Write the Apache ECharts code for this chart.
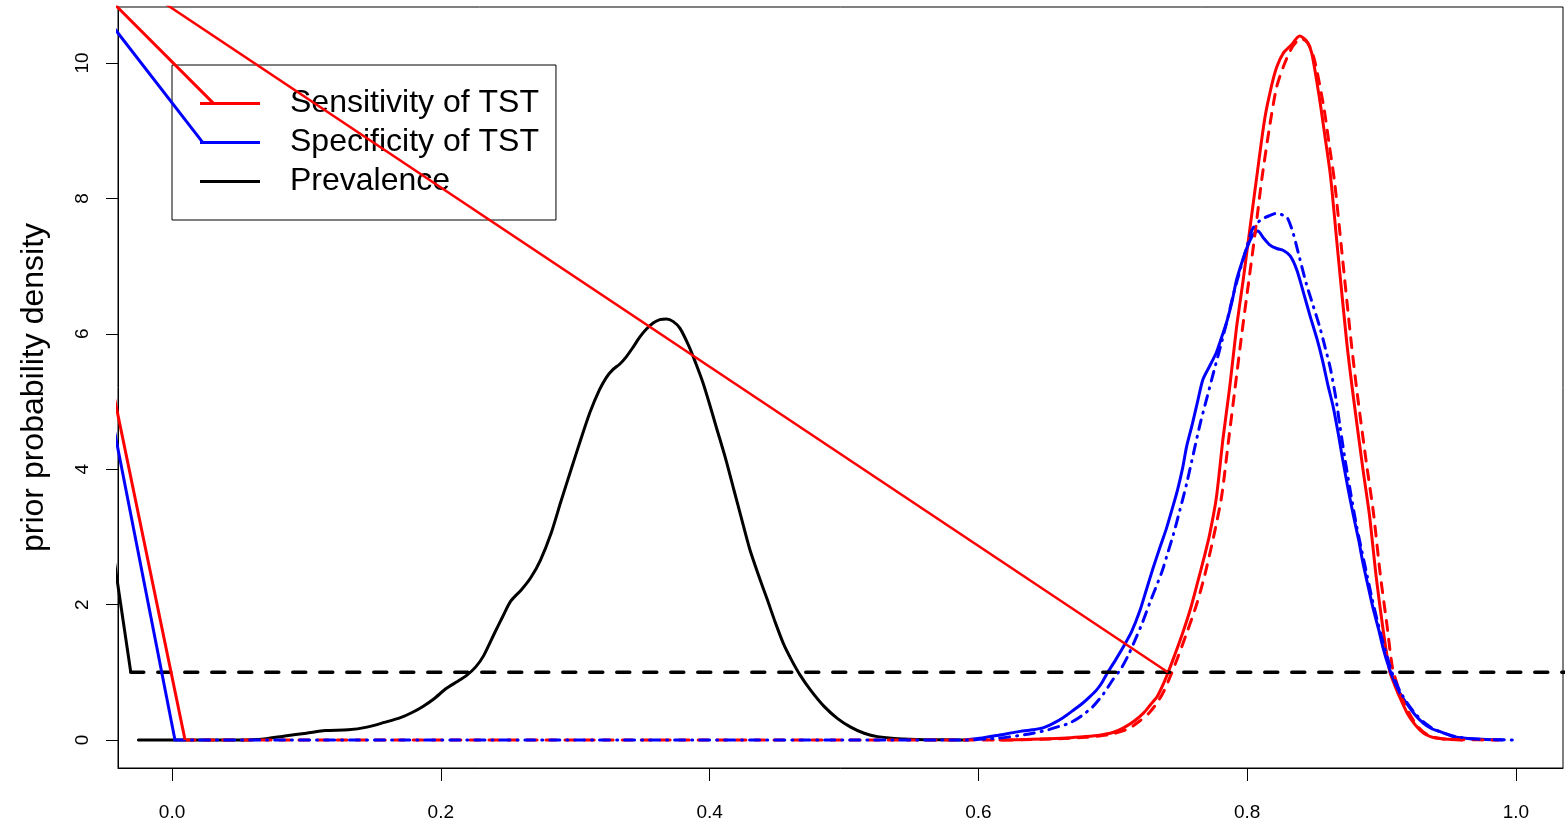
<!DOCTYPE html>
<html>
<head>
<meta charset="utf-8">
<title>Prior probability densities</title>
<script src="https://cdn.jsdelivr.net/npm/echarts@6/dist/echarts.min.js"></script>
<style>
  html, body { margin: 0; padding: 0; background: #fff; }
  #chart { width: 1565px; height: 823px; }
</style>
</head>
<body>
<div id="chart"></div>
<script>
// Axis ticks
const xTicks = [0.0, 0.2, 0.4, 0.6, 0.8, 1.0];
const yTicks = [0, 2, 4, 6, 8, 10];

// Prevalence (black solid)
const prevX = [-0.025, 0.0, 0.03, 0.059, 0.07, 0.084, 0.10, 0.114, 0.131, 0.145, 0.158, 0.170, 0.179, 0.187, 0.195, 0.204, 0.212, 0.219, 0.226, 0.232, 0.240, 0.246, 0.252, 0.260, 0.267, 0.274, 0.282, 0.289, 0.297, 0.304, 0.311, 0.318, 0.323, 0.328, 0.333, 0.338, 0.343, 0.348, 0.353, 0.358, 0.363, 0.368, 0.373, 0.378, 0.385, 0.390, 0.395, 0.400, 0.405, 0.412, 0.418, 0.424, 0.430, 0.437, 0.443, 0.449, 0.455, 0.461, 0.467, 0.475, 0.485, 0.495, 0.505, 0.515, 0.525, 0.54, 0.56, 0.59];
const prevY = [0, 0, 0, 0.005, 0.02, 0.06, 0.10, 0.14, 0.15, 0.19, 0.26, 0.33, 0.41, 0.50, 0.61, 0.76, 0.86, 0.95, 1.08, 1.25, 1.58, 1.82, 2.05, 2.22, 2.40, 2.65, 3.05, 3.50, 4.00, 4.43, 4.84, 5.17, 5.35, 5.47, 5.55, 5.66, 5.80, 5.95, 6.07, 6.16, 6.21, 6.22, 6.18, 6.08, 5.80, 5.55, 5.28, 4.96, 4.62, 4.15, 3.70, 3.25, 2.81, 2.40, 2.07, 1.73, 1.42, 1.18, 0.97, 0.74, 0.50, 0.32, 0.19, 0.10, 0.05, 0.02, 0.005, 0];

// Sensitivity of TST (red solid)
const sensX = [0.616, 0.64, 0.666, 0.680, 0.690, 0.700, 0.708, 0.716, 0.723, 0.728, 0.733, 0.737, 0.741, 0.746, 0.752, 0.758, 0.763, 0.768, 0.772, 0.777, 0.782, 0.787, 0.792, 0.797, 0.802, 0.807, 0.813, 0.818, 0.822, 0.827, 0.833, 0.839, 0.844, 0.848, 0.854, 0.858, 0.862, 0.867, 0.874, 0.879, 0.886, 0.891, 0.896, 0.901, 0.906, 0.910, 0.914, 0.919, 0.924, 0.929, 0.934, 0.94, 0.95, 0.96];
const sensY = [0, 0.01, 0.03, 0.05, 0.07, 0.11, 0.18, 0.28, 0.40, 0.52, 0.64, 0.80, 0.99, 1.25, 1.58, 1.95, 2.32, 2.70, 3.03, 3.57, 4.45, 5.21, 6.08, 6.79, 7.55, 8.30, 9.17, 9.65, 9.94, 10.15, 10.27, 10.40, 10.33, 10.15, 9.45, 8.90, 8.33, 7.30, 5.89, 5.07, 4.02, 3.32, 2.41, 1.65, 1.02, 0.80, 0.61, 0.40, 0.25, 0.14, 0.07, 0.03, 0.01, 0];

// Sensitivity of TST (red dashed)
const sensDashX = [0.0097, 0.2, 0.4, 0.62, 0.66, 0.68, 0.69, 0.70, 0.712, 0.720, 0.727, 0.733, 0.738, 0.743, 0.748, 0.755, 0.762, 0.768, 0.775, 0.781, 0.786, 0.791, 0.796, 0.801, 0.806, 0.811, 0.817, 0.822, 0.828, 0.834, 0.840, 0.845, 0.850, 0.857, 0.861, 0.865, 0.870, 0.877, 0.882, 0.889, 0.894, 0.899, 0.904, 0.908, 0.912, 0.916, 0.921, 0.926, 0.931, 0.936, 0.945, 0.96, 0.987];
const sensDashY = [0, 0, 0, 0, 0.02, 0.04, 0.06, 0.09, 0.17, 0.28, 0.40, 0.55, 0.72, 0.95, 1.20, 1.58, 1.98, 2.40, 3.00, 3.60, 4.40, 5.20, 6.00, 6.75, 7.50, 8.30, 9.10, 9.65, 10.00, 10.25, 10.36, 10.30, 10.05, 9.35, 8.80, 8.25, 7.30, 5.95, 5.10, 4.05, 3.35, 2.45, 1.70, 1.08, 0.80, 0.58, 0.38, 0.22, 0.12, 0.06, 0.02, 0.005, 0];

// Specificity of TST (blue solid)
const specX = [0.59, 0.603, 0.615, 0.629, 0.640, 0.648, 0.656, 0.663, 0.670, 0.678, 0.683, 0.688, 0.692, 0.696, 0.702, 0.708, 0.714, 0.720, 0.725, 0.730, 0.735, 0.740, 0.744, 0.748, 0.752, 0.755, 0.759, 0.763, 0.767, 0.772, 0.777, 0.781, 0.785, 0.789, 0.792, 0.796, 0.800, 0.804, 0.808, 0.812, 0.817, 0.822, 0.827, 0.832, 0.837, 0.842, 0.847, 0.852, 0.856, 0.860, 0.864, 0.868, 0.871, 0.875, 0.879, 0.883, 0.886, 0.890, 0.894, 0.898, 0.901, 0.905, 0.909, 0.914, 0.919, 0.925, 0.931, 0.937, 0.944, 0.952, 0.96, 0.975, 0.99];
const specY = [0, 0.03, 0.07, 0.12, 0.15, 0.18, 0.25, 0.33, 0.43, 0.55, 0.64, 0.74, 0.85, 0.99, 1.18, 1.38, 1.60, 1.90, 2.22, 2.54, 2.84, 3.13, 3.40, 3.68, 4.02, 4.34, 4.65, 4.99, 5.32, 5.52, 5.72, 5.95, 6.19, 6.50, 6.79, 7.05, 7.28, 7.45, 7.52, 7.42, 7.31, 7.26, 7.23, 7.15, 6.94, 6.60, 6.25, 5.92, 5.61, 5.25, 4.92, 4.50, 4.15, 3.72, 3.32, 2.95, 2.63, 2.27, 1.92, 1.62, 1.37, 1.10, 0.89, 0.68, 0.53, 0.37, 0.25, 0.17, 0.12, 0.06, 0.03, 0.01, 0];

// Specificity of TST (blue dash-dot)
const specDashX = [0.002, 0.3, 0.59, 0.616, 0.635, 0.650, 0.660, 0.668, 0.677, 0.685, 0.693, 0.700, 0.706, 0.711, 0.716, 0.722, 0.728, 0.733, 0.737, 0.741, 0.745, 0.750, 0.755, 0.760, 0.765, 0.770, 0.775, 0.780, 0.785, 0.790, 0.795, 0.800, 0.804, 0.810, 0.816, 0.822, 0.827, 0.830, 0.834, 0.839, 0.844, 0.849, 0.854, 0.858, 0.862, 0.866, 0.869, 0.873, 0.877, 0.881, 0.885, 0.889, 0.893, 0.897, 0.901, 0.905, 0.909, 0.914, 0.919, 0.925, 0.931, 0.938, 0.945, 0.953, 0.962, 0.975, 1.0];
const specDashY = [0, 0, 0, 0.03, 0.08, 0.14, 0.20, 0.25, 0.36, 0.49, 0.68, 0.89, 1.05, 1.23, 1.45, 1.73, 2.05, 2.30, 2.51, 2.77, 3.03, 3.40, 3.79, 4.23, 4.67, 5.05, 5.43, 5.80, 6.19, 6.60, 6.96, 7.30, 7.55, 7.68, 7.74, 7.78, 7.75, 7.71, 7.50, 7.12, 6.74, 6.42, 6.10, 5.80, 5.48, 5.05, 4.64, 4.12, 3.65, 3.20, 2.82, 2.45, 2.08, 1.75, 1.45, 1.17, 0.93, 0.71, 0.55, 0.39, 0.27, 0.17, 0.11, 0.06, 0.03, 0.01, 0];

// Uniform reference density (black dashed)
const unifX = [-0.0307, 1.1];
const unifY = [1, 1];

// Stray connector segments running in from outside the frame
const strayRedLongX = [-0.05, 0.741];
const strayRedLongY = [11.47, 1.0];
const strayRedKeyX = [-0.06, 0.0305];
const strayRedKeyY = [11.21, 9.41];
const strayBlueKeyX = [-0.06, 0.0231];
const strayBlueKeyY = [10.95, 8.82];
const strayRedLowX = [-0.06, 0.0097];
const strayRedLowY = [6.70, 0];
const strayBlueLowX = [-0.06, 0.0022];
const strayBlueLowY = [6.30, 0];
const strayBlackLowX = [-0.06, -0.0307];
const strayBlackLowY = [4.93, 1.0];

const zip = (xs, ys) => xs.map((x, i) => [x, ys[i]]);

const RED = '#ff0000', BLUE = '#0000ff', BLACK = '#000000';
const FONT = '"Liberation Sans", Arial, Helvetica, sans-serif';

function line(name, xs, ys, color, width, type, z, opts) {
  const o = opts || {};
  return {
    type: 'line',
    name: name,
    data: zip(xs, ys),
    showSymbol: false,
    symbol: 'none',
    clip: true,
    smooth: o.smooth || false,
    z: z || 2,
    itemStyle: { color: color },
    lineStyle: { color: color, width: width, type: type || 'solid', cap: o.cap || 'round', join: 'round' },
    emphasis: { disabled: true },
    silent: true
  };
}

const curve = { smooth: 0.25 };
const stray = { cap: 'butt' };

const chart = echarts.init(document.getElementById('chart'), null, { renderer: 'canvas' });

chart.setOption({
  animation: false,
  backgroundColor: '#ffffff',
  textStyle: { fontFamily: FONT, color: BLACK },
  grid: {
    left: 118, right: 2, top: 7, bottom: 55,
    show: true, borderColor: BLACK, borderWidth: 1,
    containLabel: false, outerBoundsMode: 'none'
  },
  legend: {
    orient: 'vertical',
    left: 172, top: 65,
    padding: [19, 17, 19, 28],
    borderColor: BLACK, borderWidth: 1,
    itemWidth: 60, itemHeight: 3, itemGap: 0,
    icon: 'rect',
    selectedMode: false,
    textStyle: { fontFamily: FONT, fontSize: 32, color: BLACK, lineHeight: 33, padding: [6, 0, 0, 25] },
    data: ['Sensitivity of TST', 'Specificity of TST', 'Prevalence']
  },
  xAxis: {
    type: 'value',
    min: -0.0402, max: 1.035,
    axisLine: { show: true, onZero: false, lineStyle: { color: BLACK, width: 1 } },
    axisTick: { show: true, length: 13, customValues: xTicks, lineStyle: { color: BLACK } },
    axisLabel: {
      show: true, customValues: xTicks, margin: 35,
      fontSize: 19, fontFamily: FONT, color: BLACK,
      formatter: v => v.toFixed(1)
    },
    splitLine: { show: false }
  },
  yAxis: {
    type: 'value',
    min: -0.4136, max: 10.827,
    name: 'prior probability density',
    nameLocation: 'middle',
    nameGap: 68,
    nameTextStyle: { fontFamily: FONT, fontSize: 32, color: BLACK },
    axisLine: { show: true, onZero: false, lineStyle: { color: BLACK, width: 1 } },
    axisTick: { show: true, length: 12, customValues: yTicks, lineStyle: { color: BLACK } },
    axisLabel: {
      show: true, customValues: yTicks, rotate: 90, margin: 26,
      fontSize: 19, fontFamily: FONT, color: BLACK
    },
    splitLine: { show: false }
  },
  series: [
    line('Prevalence', prevX, prevY, BLACK, 3, 'solid', 3, curve),
    line('Sensitivity of TST', sensX, sensY, RED, 3, 'solid', 3, curve),
    line('Specificity of TST', specX, specY, BLUE, 3, 'solid', 3, curve),
    line('Sensitivity, dashed', sensDashX, sensDashY, RED, 3, [10, 9], 4, curve),
    line('Specificity, dash-dot', specDashX, specDashY, BLUE, 3, [10, 7, 1, 7], 4, curve),
    line('Uniform', unifX, unifY, BLACK, 3.5, [13, 14], 5),
    line('stray-1', strayRedLongX, strayRedLongY, RED, 2.5, 'solid', 6, stray),
    line('stray-2', strayRedKeyX, strayRedKeyY, RED, 3, 'solid', 6, stray),
    line('stray-3', strayBlueKeyX, strayBlueKeyY, BLUE, 3, 'solid', 6, stray),
    line('stray-4', strayRedLowX, strayRedLowY, RED, 3, 'solid', 6, stray),
    line('stray-5', strayBlueLowX, strayBlueLowY, BLUE, 3, 'solid', 6, stray),
    line('stray-6', strayBlackLowX, strayBlackLowY, BLACK, 3, 'solid', 6, stray)
  ]
});
</script>
</body>
</html>
